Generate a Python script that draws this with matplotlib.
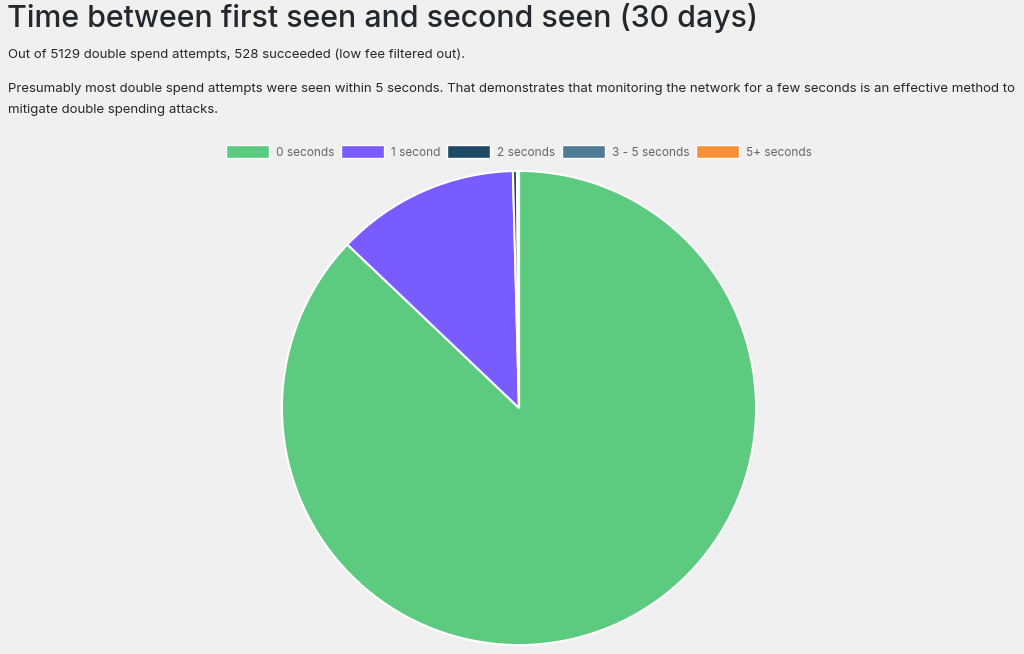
import matplotlib
matplotlib.use('Agg')  # no UI backend

import matplotlib.pyplot as plt
from matplotlib.patches import Patch

labels = ["0 seconds", "1 second", "2 seconds", "3 - 5 seconds", "5+ seconds"]
counts = [4468, 640, 14, 7, 0]
colors = ["#5ccb7f", "#785cff", "#1d4866", "#507b97", "#f79237"]

plt.rcParams['font.family'] = ['Inter', 'DejaVu Sans']

fig = plt.figure(figsize=(10.24, 6.54), dpi=100, facecolor="#f0f0f0")

fig.text(7 / 1024, 1 - 18 / 654, "Time between first seen and second seen (30 days)",
         fontsize=21.8, fontweight="medium", color="#23282d", va="center", ha="left")
fig.text(8 / 1024, 1 - 55 / 654,
         "Out of 5129 double spend attempts, 528 succeeded (low fee filtered out).",
         fontsize=9.5, color="#23282d", va="center", ha="left")
fig.text(8 / 1024, 1 - 89 / 654,
         "Presumably most double spend attempts were seen within 5 seconds. That demonstrates "
         "that monitoring the network for a few seconds is an effective method to",
         fontsize=9.5, color="#23282d", va="center", ha="left")
fig.text(8 / 1024, 1 - 110 / 654, "mitigate double spending attacks.",
         fontsize=9.5, color="#23282d", va="center", ha="left")

ax = fig.add_axes([(519 - 238) / 1024, (654 - 646) / 654, 476 / 1024, 476 / 654])
ax.set_facecolor("#f0f0f0")
ax.pie(counts, colors=colors, startangle=90, counterclock=False, radius=1,
       wedgeprops=dict(edgecolor="white", linewidth=1.5))
ax.set_xlim(-1.004, 1.004)
ax.set_ylim(-1.004, 1.004)
ax.set_aspect("equal")
ax.axis("off")

handles = [Patch(facecolor=c, edgecolor="white", linewidth=1) for c in colors]
fig.legend(handles, labels, ncol=5, loc="center", bbox_to_anchor=(519 / 1024, 1 - 152 / 654),
           frameon=False, fontsize=8.5, labelcolor="#666666", handlelength=3.6,
           handleheight=1.3, handletextpad=0.6, columnspacing=0.6)

plt.savefig("out.png", dpi=100, facecolor=fig.get_facecolor())
